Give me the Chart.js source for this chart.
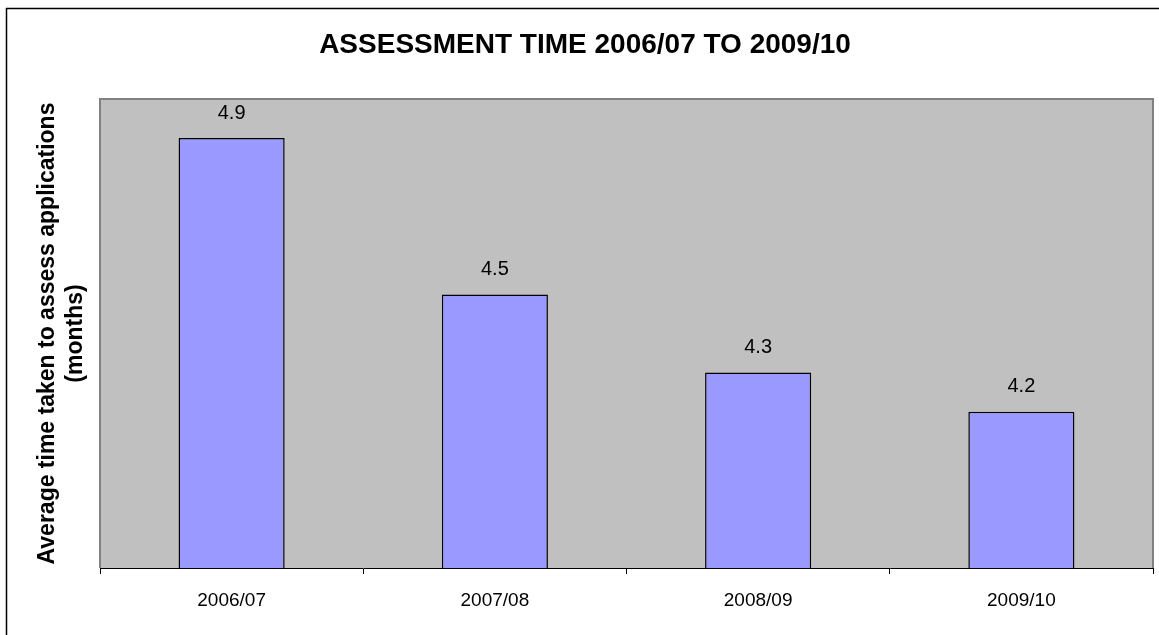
<!DOCTYPE html>
<html>
<head>
<meta charset="utf-8">
<script src="https://cdn.jsdelivr.net/npm/chart.js@4"></script>
<style>
  html, body { margin: 0; padding: 0; background: #fff; }
  #wrap { width: 1159px; height: 635px; }
</style>
</head>
<body>
<div id="wrap"><canvas id="c" width="1159" height="635"></canvas></div>
<script>
const chartTitle = 'ASSESSMENT TIME 2006/07 TO 2009/10';
const yTitle = ['Average time taken to assess applications', '(months)'];
const categories = ['2006/07', '2007/08', '2008/09', '2009/10'];
const values = [4.9, 4.5, 4.3, 4.2];
const valueLabels = ['4.9', '4.5', '4.3', '4.2'];
const yRange = [3.8, 5.0];

const FONT = '"Liberation Sans", Arial, sans-serif';

const framePlugin = {
  id: 'frame',
  beforeDraw(chart) {
    const ctx = chart.ctx;
    const a = chart.chartArea;
    ctx.save();
    ctx.fillStyle = '#ffffff';
    ctx.fillRect(0, 0, chart.width, chart.height);
    // outer chart frame
    ctx.strokeStyle = '#000000';
    ctx.lineWidth = 1.5;
    ctx.strokeRect(6.5, 8.5, chart.width + 20, chart.height + 20);
    // plot area
    ctx.fillStyle = '#C0C0C0';
    ctx.fillRect(a.left, a.top, a.right - a.left, a.bottom - a.top);
    ctx.strokeStyle = '#808080';
    ctx.lineWidth = 2;
    ctx.beginPath();
    ctx.moveTo(a.left, a.bottom);
    ctx.lineTo(a.left, a.top);
    ctx.lineTo(a.right, a.top);
    ctx.lineTo(a.right, a.bottom);
    ctx.stroke();
    ctx.restore();
  },
  afterDatasetsDraw(chart) {
    const ctx = chart.ctx;
    const meta = chart.getDatasetMeta(0);
    ctx.save();
    ctx.font = '20px ' + FONT;
    ctx.fillStyle = '#000000';
    ctx.textAlign = 'center';
    ctx.textBaseline = 'middle';
    meta.data.forEach((bar, i) => {
      ctx.fillText(valueLabels[i], bar.x, bar.y - 25);
    });
    ctx.restore();
  }
};

new Chart(document.getElementById('c'), {
  type: 'bar',
  data: {
    labels: categories,
    datasets: [{
      data: values,
      backgroundColor: '#9999FF',
      borderColor: '#000000',
      borderWidth: 1.5,
      borderSkipped: false,
      categoryPercentage: 1,
      barPercentage: 0.403
    }]
  },
  options: {
    responsive: false,
    animation: false,
    devicePixelRatio: 1,
    layout: { padding: { left: 17, right: 6, top: 0, bottom: 0 } },
    plugins: {
      legend: { display: false },
      tooltip: { enabled: false },
      title: {
        display: true,
        text: chartTitle,
        color: '#000000',
        font: { family: FONT, size: 28, weight: 'bold', lineHeight: 1.2 },
        padding: { top: 28, bottom: 37.4 }
      }
    },
    scales: {
      x: {
        grid: {
          display: true,
          drawOnChartArea: false,
          drawTicks: true,
          tickLength: 6,
          color: '#000000',
          offset: true
        },
        border: { display: true, color: '#000000', width: 1 },
        ticks: {
          color: '#000000',
          font: { family: FONT, size: 19 },
          padding: 15,
          maxRotation: 0
        },
        afterFit(scale) { scale.height = 67; }
      },
      y: {
        min: yRange[0],
        max: yRange[1],
        grid: { display: false },
        border: { display: false },
        ticks: { display: false },
        title: {
          display: true,
          text: yTitle,
          color: '#000000',
          font: { family: FONT, size: 23, weight: 'bold', lineHeight: 1.22 },
          padding: { top: 17, bottom: 0 }
        },
        afterFit(scale) { scale.width = 83; }
      }
    }
  },
  plugins: [framePlugin]
});
</script>
</body>
</html>
